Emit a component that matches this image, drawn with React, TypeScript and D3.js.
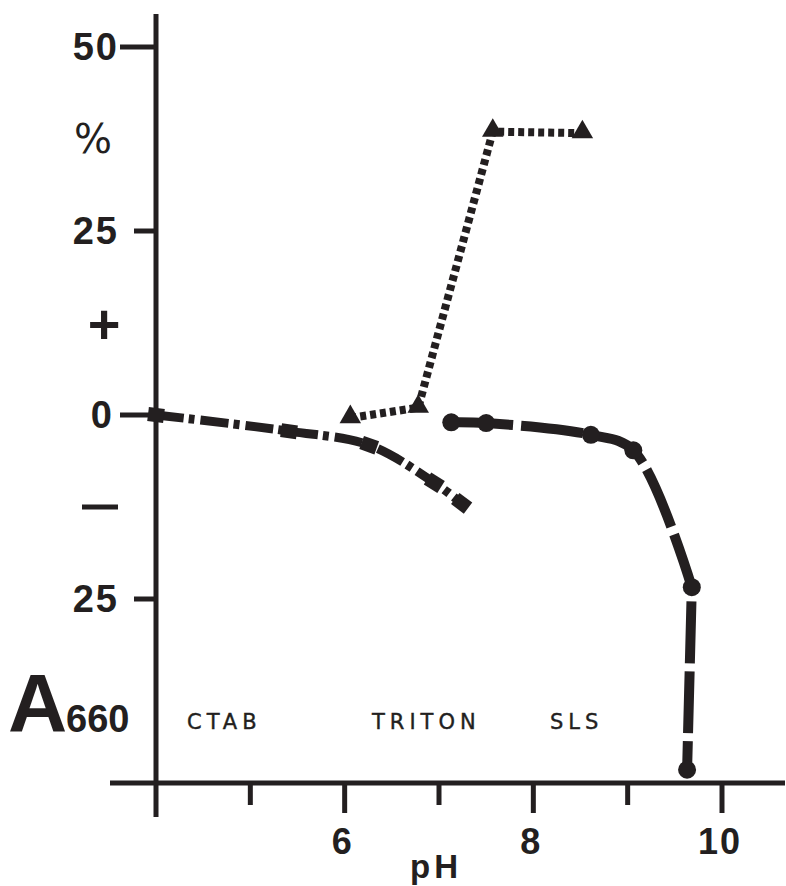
import * as d3 from "d3";

// pH readings and % change in A660 for each detergent
const ctabPH = [4.0, 5.41, 6.26, 6.95, 7.24];
const ctabVal = [0, -2.2, -4.1, -9.2, -12.0];

const tritonPH = [6.06, 6.78, 7.57, 8.52];
const tritonVal = [-0.4, 1.0, 38.5, 38.3];

const slsPH = [7.13, 7.5, 8.61, 9.06, 9.68, 9.63];
const slsVal = [-1.0, -1.1, -2.7, -4.8, -23.4, -48.2];

const xMajor = [4, 6, 8, 10];
const xMinor = [5, 7, 9];
const xLabels = ["6", "8", "10"];
const yTicks = [50, 25, 0, -25];
const yTickLabels = ["50", "25", "0", "25"];

const seriesLabels = ["CTAB", "TRITON", "SLS"];

export default function App() {
  const width = 786;
  const height = 886;

  const x = d3.scaleLinear().domain([4, 10]).range([156, 722]);
  const y = d3.scaleLinear().domain([-50, 50]).range([783, 47]);

  const ink = "#231f20";
  const bold = "'Liberation Sans', Arial, sans-serif";
  const light = "'DejaVu Sans', 'Open Sans', sans-serif";

  const ctab = ctabPH.map((p, i) => [x(p), y(ctabVal[i])] as [number, number]);
  const triton = tritonPH.map((p, i) => [x(p), y(tritonVal[i])] as [number, number]);
  const sls = slsPH.map((p, i) => [x(p), y(slsVal[i])] as [number, number]);

  const curve = d3.line().curve(d3.curveCatmullRom.alpha(0.5));
  const straight = d3.line();

  // the SLS curve bends round the corner, then drops straight to the axis
  const slsD = (curve(sls.slice(0, 5)) ?? "") + (straight(sls.slice(4)) ?? "").replace(/^M/, "L");

  const tri = d3.symbol().type(d3.symbolTriangle).size(200)();

  return (
    <svg
      width={width}
      height={height}
      style={{ position: "absolute", left: 0, top: 0, background: "#fff" }}
    >
      {/* axes */}
      <line x1={x(4)} x2={x(4)} y1={14} y2={817} stroke={ink} strokeWidth={5} />
      <line x1={110} x2={785} y1={y(-50)} y2={y(-50)} stroke={ink} strokeWidth={5} />

      {yTicks.map((t, i) => {
        const len = t % 50 === 0 ? 36 : 22;
        return (
          <g key={t}>
            <line
              x1={x(4) - len}
              x2={x(4)}
              y1={y(t)}
              y2={y(t)}
              stroke={ink}
              strokeWidth={5}
            />
            <text
              x={t === 0 ? 114 : 119}
              y={y(t)}
              textAnchor="end"
              dominantBaseline="central"
              fontFamily={bold}
              fontWeight="bold"
              fontSize={38}
              letterSpacing={2}
              fill={ink}
            >
              {yTickLabels[i]}
            </text>
          </g>
        );
      })}

      <text x={93} y={y(37.5)} textAnchor="middle" dominantBaseline="central"
        fontFamily={light} fontSize={40} fill={ink}>%</text>
      <text x={104} y={y(12.5)} textAnchor="middle" dominantBaseline="central"
        fontFamily={bold} fontWeight="bold" fontSize={56} fill={ink}>+</text>
      <line x1={82} x2={118} y1={y(-12.5)} y2={y(-12.5)} stroke={ink} strokeWidth={5} />

      {xMajor.slice(1).map((t, i) => (
        <g key={t}>
          <line x1={x(t)} x2={x(t)} y1={y(-50)} y2={y(-50) + 30} stroke={ink} strokeWidth={5} />
          <text
            x={x(t) - 2}
            y={841}
            textAnchor="middle"
            dominantBaseline="central"
            fontFamily={bold}
            fontWeight="bold"
            fontSize={36}
            letterSpacing={2}
            fill={ink}
          >
            {xLabels[i]}
          </text>
        </g>
      ))}
      {xMinor.map((t) => (
        <line key={t} x1={x(t)} x2={x(t)} y1={y(-50)} y2={y(-50) + 22} stroke={ink} strokeWidth={5} />
      ))}

      <text x={436} y={878} textAnchor="middle" fontFamily={bold} fontWeight="bold"
        fontSize={33} letterSpacing={4} fill={ink}>pH</text>

      <text x={8} y={731} fontFamily={bold} fontWeight="bold" fontSize={82} fill={ink}>A</text>
      <text x={66} y={732} fontFamily={bold} fontWeight="bold" fontSize={38} fill={ink}>660</text>

      {seriesLabels.map((s, i) => (
        <text key={s} x={[187, 372, 550][i]} y={729} fontFamily={light}
          fontSize={21} letterSpacing={5} stroke={ink} strokeWidth={0.4} fill={ink}>{s}</text>
      ))}

      {/* CTAB: dash-dot with squares */}
      <path d={curve(ctab) ?? ""} fill="none" stroke={ink} strokeWidth={9}
        strokeDasharray="28 5 6 6" />
      {ctab.map(([px, py], i) => {
        const next = ctab[Math.min(i + 1, ctab.length - 1)];
        const prev = ctab[Math.max(i - 1, 0)];
        const ang = (Math.atan2(next[1] - prev[1], next[0] - prev[0]) * 180) / Math.PI;
        return (
          <rect key={i} x={-8} y={-7} width={16} height={14} fill={ink}
            transform={`translate(${px},${py}) rotate(${ang})`} />
        );
      })}

      {/* TRITON: dotted with triangles */}
      <path d={straight(triton) ?? ""} fill="none" stroke={ink} strokeWidth={8}
        strokeDasharray="6 4" />
      {triton.map(([px, py], i) => (
        <path key={i} d={tri ?? ""} transform={`translate(${px},${py - 1})`} fill={ink} />
      ))}

      {/* SLS: long dashes with circles */}
      <path d={slsD} fill="none" stroke={ink} strokeWidth={10}
        strokeDasharray="62 8" />
      {sls.map(([px, py], i) => (
        <circle key={i} cx={px} cy={py} r={9} fill={ink} />
      ))}
    </svg>
  );
}
